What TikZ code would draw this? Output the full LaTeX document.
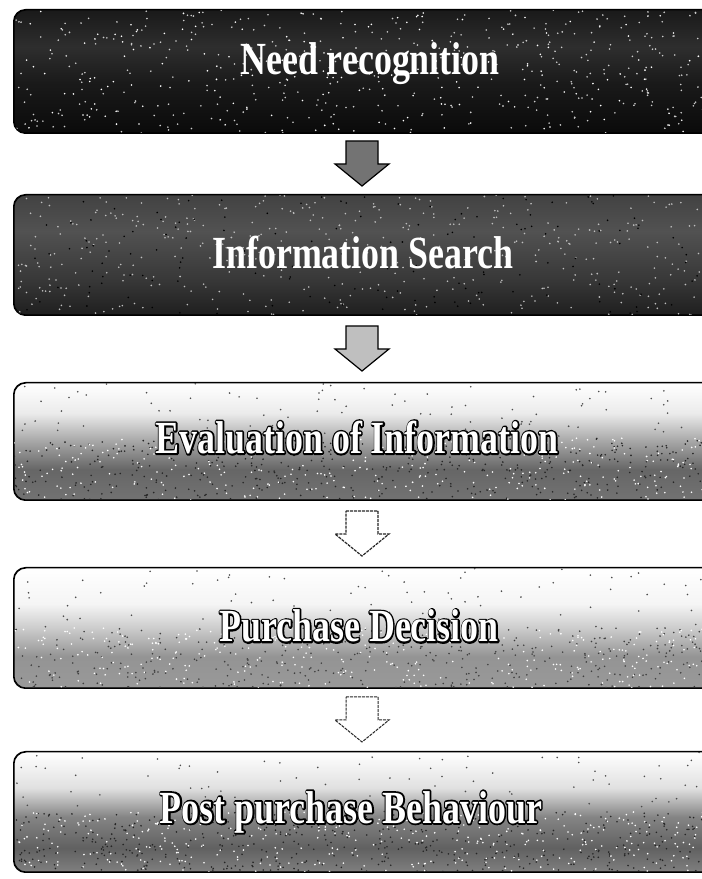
\documentclass[tikz,border=0pt]{standalone}
\usepackage{fontspec}
\setmainfont{Liberation Serif}
\usetikzlibrary{calc}
% vertical shadings: path box maps to 25bp (bottom) .. 75bp (top)
\pgfdeclareverticalshading{shone}{100bp}{color(0bp)=(black!96); color(25bp)=(black!96); color(45bp)=(black!90); color(60bp)=(black!82); color(75bp)=(black!90); color(100bp)=(black!90)}
\pgfdeclareverticalshading{shtwo}{100bp}{color(0bp)=(black!88); color(25bp)=(black!88); color(40bp)=(black!78); color(60bp)=(black!68); color(75bp)=(black!74); color(100bp)=(black!74)}
\pgfdeclareverticalshading{shthree}{100bp}{color(0bp)=(black!55); color(25bp)=(black!55); color(38bp)=(black!60); color(50bp)=(black!35); color(62bp)=(black!8); color(75bp)=(white); color(100bp)=(white)}
\pgfdeclareverticalshading{shfour}{100bp}{color(0bp)=(black!40); color(25bp)=(black!40); color(38bp)=(black!42); color(50bp)=(black!20); color(60bp)=(black!4); color(75bp)=(white); color(100bp)=(white)}
\pgfdeclareverticalshading{shfive}{100bp}{color(0bp)=(black!50); color(25bp)=(black!50); color(35bp)=(black!62); color(48bp)=(black!48); color(60bp)=(black!12); color(75bp)=(white); color(100bp)=(white)}
\newcommand\condtext[1]{\scalebox{0.78}[1]{#1}}
% thick black stroke (drawn as its own node underneath the white text)
\newcommand\strokeonly[1]{\special{pdf:literal q 1 Tr 3.6 w 1 J 1 j 0 G}#1\special{pdf:literal Q}}
\newcommand\speckdots[6]{%
  \foreach \k in {1,...,#5}{%
    \pgfmathsetmacro\sx{#1+#3*rnd}%
    \pgfmathsetmacro\sy{#2+#4*rnd}%
    \fill[#6] (\sx,\sy) circle (0.9);}}
\tikzset{
  stagebox/.style={draw=black, line width=1pt, rounded corners=12pt,
    minimum width=706pt, inner sep=0pt, anchor=center},
  stagetext/.style={font=\bfseries\fontsize{46}{46}\selectfont, text=white, inner sep=0pt},
  downarrow/.pic={\path[pic actions] (-16,23) -- (16,23) -- (16,0) -- (27,0)
      -- (0,-22) -- (-27,0) -- (-16,0) -- cycle;},
}
\begin{document}
\begin{tikzpicture}[x=1pt,y=1pt]
\pgfmathsetseed{4711}
\useasboundingbox (0,0) rectangle (702,879);
\clip (0,0) rectangle (702,879);
\fill[white] (0,0) rectangle (702,879);

% boxes
\node[stagebox, minimum height=123pt, shading=shone] (b1) at (367,807.5) {};
\node[stagebox, minimum height=120pt, shading=shtwo] (b2) at (367,624) {};
\node[stagebox, minimum height=117pt, shading=shthree] (b3) at (367,437.5) {};
\node[stagebox, minimum height=120pt, shading=shfour] (b4) at (367,251) {};
\node[stagebox, minimum height=120pt, shading=shfive] (b5) at (367,67) {};

% speckle texture
\begin{scope}
  \clip[rounded corners=12pt] (b1.south west) rectangle (b1.north east);
  \speckdots{14}{746}{706}{123}{380}{white!80!black}
  \speckdots{14}{746}{706}{123}{200}{white}
\end{scope}
\begin{scope}
  \clip[rounded corners=12pt] (b2.south west) rectangle (b2.north east);
  \speckdots{14}{564}{706}{120}{420}{white!75!black}
  \speckdots{14}{564}{706}{120}{150}{black}
\end{scope}
\begin{scope}
  \clip[rounded corners=12pt] (b3.south west) rectangle (b3.north east);
  \speckdots{14}{441}{706}{55}{90}{black!70}
  \speckdots{14}{379}{706}{62}{450}{black!85}
  \speckdots{14}{379}{706}{62}{300}{white}
\end{scope}
\begin{scope}
  \clip[rounded corners=12pt] (b4.south west) rectangle (b4.north east);
  \speckdots{14}{251}{706}{60}{80}{black!70}
  \speckdots{14}{191}{706}{60}{400}{black!75}
  \speckdots{14}{191}{706}{60}{300}{white}
\end{scope}
\begin{scope}
  \clip[rounded corners=12pt] (b5.south west) rectangle (b5.north east);
  \speckdots{14}{67}{706}{60}{90}{black!70}
  \speckdots{14}{7}{706}{60}{500}{black!85}
  \speckdots{14}{7}{706}{60}{350}{white}
\end{scope}
\foreach \b in {b1,b2,b3,b4,b5}{
  \draw[line width=1pt, rounded corners=12pt] (\b.south west) rectangle (\b.north east);
}

% texts
\node[stagetext] (t1) at ($(b1.center)+(3,8)$) {\condtext{Need recognition}};
\node[stagetext] (t2) at ($(b2.center)+(-4,2)$) {\condtext{Information Search}};
\node[stagetext] (t3o) at ($(b3.center)+(-10,4)$) {\condtext{\strokeonly{Evaluation of Information}}};
\node[stagetext] (t3) at (t3o) {\condtext{Evaluation of Information}};
\node[stagetext] (t4o) at ($(b4.center)+(-8,2)$) {\condtext{\strokeonly{Purchase Decision}}};
\node[stagetext] (t4) at (t4o) {\condtext{Purchase Decision}};
\node[stagetext] (t5o) at ($(b5.center)+(-16,0)$) {\condtext{\strokeonly{Post purchase Behaviour}}};
\node[stagetext] (t5) at (t5o) {\condtext{Post purchase Behaviour}};

% arrows between boxes
\coordinate (a1) at ($(b1.south)!0.5!(b2.north)+(-5,0)$);
\coordinate (a2) at ($(b2.south)!0.5!(b3.north)+(-5,0)$);
\coordinate (a3) at ($(b3.south)!0.5!(b4.north)+(-5,0)$);
\coordinate (a4) at ($(b4.south)!0.5!(b5.north)+(-5,0)$);
\pic[fill=black!55, draw=black, line width=1.2pt] at (a1) {downarrow};
\pic[fill=black!25, draw=black, line width=1.2pt] at (a2) {downarrow};
\pic[fill=white, draw=black!85, line width=1.2pt, dash pattern=on 3pt off 1pt] at (a3) {downarrow};
\pic[fill=white, draw=black!85, line width=1pt, dash pattern=on 3pt off 1pt] at (a4) {downarrow};
\end{tikzpicture}
\end{document}
